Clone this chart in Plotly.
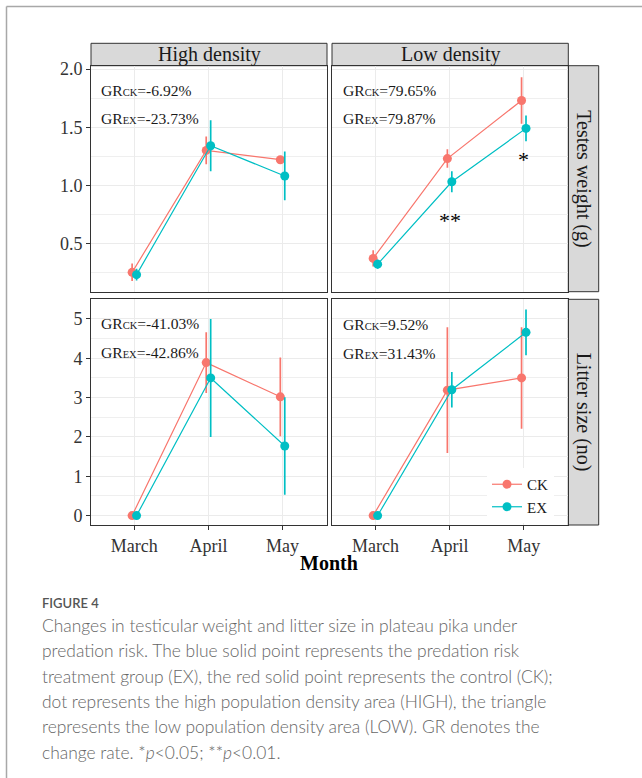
import plotly.graph_objects as go

W, H = 642, 778

months = ["March", "April", "May"]
groups = ["CK", "EX"]
colors = {"CK": "#F8766D", "EX": "#00BFC4"}

# Testes weight (g)
high_testes_ck = [0.25, 1.30, 1.22]
high_testes_ck_err = [0.075, 0.12, 0.03]
high_testes_ex = [0.23, 1.34, 1.08]
high_testes_ex_err = [0.05, 0.22, 0.21]
low_testes_ck = [0.37, 1.23, 1.73]
low_testes_ck_err = [0.07, 0.08, 0.20]
low_testes_ex = [0.32, 1.03, 1.49]
low_testes_ex_err = [0.04, 0.09, 0.11]

# Litter size (no)
high_litter_ck = [0.0, 3.89, 3.02]
high_litter_ck_err = [0.0, 0.77, 1.0]
high_litter_ex = [0.0, 3.50, 1.77]
high_litter_ex_err = [0.0, 1.5, 1.24]
low_litter_ck = [0.0, 3.19, 3.50]
low_litter_ck_err = [0.0, 1.6, 1.29]
low_litter_ex = [0.0, 3.20, 4.66]
low_litter_ex_err = [0.0, 0.45, 0.58]

gr_labels = {
    "hl_top": ("-6.92%", "-23.73%"),
    "lo_top": ("79.65%", "79.87%"),
    "hl_bot": ("-41.03%", "-42.86%"),
    "lo_bot": ("9.52%", "31.43%"),
}

col_titles = ["High density", "Low density"]
row_titles = ["Testes weight (g)", "Litter size (no)"]
x_title = "Month"

caption_head = "FIGURE 4"
caption_lines = [
    "Changes in testicular weight and litter size in plateau pika under",
    "predation risk. The blue solid point represents the predation risk",
    "treatment group (EX), the red solid point represents the control (CK);",
    "dot represents the high population density area (HIGH), the triangle",
    "represents the low population density area (LOW). GR denotes the",
    "change rate. *<i>p</i>&lt;0.05; **<i>p</i>&lt;0.01.",
]

SERIF = "Liberation Serif"
dodge = 0.03


def px(x):
    return x / W


def py(y):
    return 1 - y / H


# panel pixel geometry
colx = [(91, 327), (332, 568.3)]
rowy = [(65.7, 291.7), (299.3, 525)]
strip_top = 43.3
strip_right = 598.7

fig = go.Figure()

panels = [
    ("x", "y", high_testes_ck, high_testes_ck_err, high_testes_ex, high_testes_ex_err),
    ("x2", "y2", low_testes_ck, low_testes_ck_err, low_testes_ex, low_testes_ex_err),
    ("x3", "y3", high_litter_ck, high_litter_ck_err, high_litter_ex, high_litter_ex_err),
    ("x4", "y4", low_litter_ck, low_litter_ck_err, low_litter_ex, low_litter_ex_err),
]

for i, (xa, ya, ck, ckerr, ex, exerr) in enumerate(panels):
    for g, vals, errs, off in (("CK", ck, ckerr, -dodge), ("EX", ex, exerr, dodge)):
        fig.add_trace(go.Scatter(
            x=[k + off for k in range(len(months))], y=vals,
            mode="lines+markers", name=g, legendgroup=g,
            showlegend=(i == 3),
            line=dict(color=colors[g], width=1.2),
            marker=dict(color=colors[g], size=9),
            error_y=dict(type="data", array=errs, visible=True,
                         color=colors[g], thickness=1.7, width=0),
            xaxis=xa, yaxis=ya,
        ))

ax_common = dict(showline=True, mirror=True, linecolor="#333333", linewidth=1,
                 showgrid=True, gridcolor="#EBEBEB", gridwidth=1, zeroline=False,
                 automargin=False,
                 tickfont=dict(family=SERIF, size=18, color="#333333"))

xr = [-0.585, 2.6]
tickx = list(range(len(months)))
top_dom = [py(rowy[0][1]), py(rowy[0][0])]
bot_dom = [py(rowy[1][1]), py(rowy[1][0])]

layout_axes = {}
for name, col, row in (("xaxis", 0, 0), ("xaxis2", 1, 0), ("xaxis3", 0, 1), ("xaxis4", 1, 1)):
    anchor = {"xaxis": "y", "xaxis2": "y2", "xaxis3": "y3", "xaxis4": "y4"}[name]
    layout_axes[name] = dict(ax_common, domain=[px(colx[col][0]), px(colx[col][1])],
                             anchor=anchor, range=xr, tickvals=tickx, ticktext=months,
                             showticklabels=(row == 1), ticks="outside" if row == 1 else "",
                             ticklen=4, tickcolor="#333333")

top_range = [0.083, 2.03]
bot_range = [-0.24, 5.5]
for name, col, row in (("yaxis", 0, 0), ("yaxis2", 1, 0), ("yaxis3", 0, 1), ("yaxis4", 1, 1)):
    anchor = {"yaxis": "x", "yaxis2": "x2", "yaxis3": "x3", "yaxis4": "x4"}[name]
    if row == 0:
        tv = [0.5, 1.0, 1.5, 2.0]
        tt = ["0.5", "1.0", "1.5", "2.0"]
        mv = [0.25, 0.75, 1.25, 1.75]
        rg = top_range
        dom = top_dom
    else:
        tv = [0, 1, 2, 3, 4, 5]
        tt = [str(v) for v in tv]
        mv = [0.5, 1.5, 2.5, 3.5, 4.5]
        rg = bot_range
        dom = bot_dom
    layout_axes[name] = dict(ax_common, domain=dom, anchor=anchor, range=rg,
                             tickvals=tv, ticktext=tt,
                             showticklabels=(col == 0), ticks="outside" if col == 0 else "",
                             ticklen=4, tickcolor="#333333",
                             minor=dict(tickvals=mv, showgrid=True, gridcolor="#EFEFEF",
                                        gridwidth=0.7, ticks=""))

shapes = []
annotations = []

# outer frame
shapes.append(dict(type="line", xref="paper", yref="paper", x0=px(6.5), x1=px(6.5),
                   y0=py(6.5), y1=0, line=dict(color="#A8A8A8", width=1.5)))
shapes.append(dict(type="line", xref="paper", yref="paper", x0=px(6.5), x1=1,
                   y0=py(6.5), y1=py(6.5), line=dict(color="#A8A8A8", width=1.5)))

# top strips
for c in range(2):
    shapes.append(dict(type="rect", xref="paper", yref="paper", layer="below",
                       x0=px(colx[c][0]), x1=px(colx[c][1]), y0=py(rowy[0][0]), y1=py(strip_top),
                       fillcolor="#D9D9D9", line=dict(color="#333333", width=1)))
    annotations.append(dict(xref="paper", yref="paper", x=px((colx[c][0] + colx[c][1]) / 2),
                            y=py((strip_top + rowy[0][0]) / 2), text=col_titles[c], showarrow=False,
                            xanchor="center", yanchor="middle",
                            font=dict(family=SERIF, size=20, color="#1A1A1A")))
# right strips
for r in range(2):
    shapes.append(dict(type="rect", xref="paper", yref="paper", layer="below",
                       x0=px(colx[1][1]), x1=px(strip_right), y0=py(rowy[r][1]), y1=py(rowy[r][0]),
                       fillcolor="#D9D9D9", line=dict(color="#333333", width=1)))
    annotations.append(dict(xref="paper", yref="paper", x=px((colx[1][1] + strip_right) / 2),
                            y=py((rowy[r][0] + rowy[r][1]) / 2), text=row_titles[r], showarrow=False,
                            textangle=90, xanchor="center", yanchor="middle",
                            font=dict(family=SERIF, size=20, color="#1A1A1A")))

# GR labels
gr_pos = {
    "hl_top": (98.5, 90.7, 118.3),
    "lo_top": (340.5, 90.7, 118.3),
    "hl_bot": (99, 323.3, 352.7),
    "lo_bot": (340.5, 324.3, 353.3),
}
for key, (x0, y1, y2) in gr_pos.items():
    ckv, exv = gr_labels[key]
    for sub, val, yy in (("CK", ckv, y1), ("EX", exv, y2)):
        annotations.append(dict(xref="paper", yref="paper", x=px(x0), y=py(yy),
                                text=f"GR<span style='font-size:10.5px'>{sub}</span>={val}",
                                showarrow=False, xanchor="left", yanchor="middle",
                                font=dict(family=SERIF, size=15.6, color="#1A1A1A")))

# significance stars (low density, testes weight)
annotations.append(dict(xref="x2", yref="y2", x=1, y=0.70, text="**", showarrow=False,
                        xanchor="center", yanchor="middle",
                        font=dict(family=SERIF, size=22, color="#000000")))
annotations.append(dict(xref="x2", yref="y2", x=2, y=1.22, text="*", showarrow=False,
                        xanchor="center", yanchor="middle",
                        font=dict(family=SERIF, size=22, color="#000000")))

# x title
annotations.append(dict(xref="paper", yref="paper", x=px(329), y=py(563), text=f"<b>{x_title}</b>",
                        showarrow=False, xanchor="center", yanchor="middle",
                        font=dict(family=SERIF, size=20, color="#000000")))

# caption
annotations.append(dict(xref="paper", yref="paper", x=px(40), y=py(603), text=caption_head,
                        showarrow=False, xanchor="left", yanchor="middle",
                        font=dict(family="Lato", size=13, color="#555555", weight=600)))
for k, line in enumerate(caption_lines):
    annotations.append(dict(xref="paper", yref="paper", x=px(40), y=py(625.5 + 25.3 * k), text=line,
                            showarrow=False, xanchor="left", yanchor="middle",
                            font=dict(family="Lato", size=17.4, color="#666666", weight=300)))

fig.update_layout(
    width=W, height=H, autosize=False,
    margin=dict(l=0, r=0, t=0, b=0, pad=0),
    paper_bgcolor="white", plot_bgcolor="white",
    shapes=shapes, annotations=annotations,
    legend=dict(x=px(487), y=py(468), xanchor="left", yanchor="top",
                bgcolor="white", borderwidth=0,
                font=dict(family=SERIF, size=15, color="#1A1A1A"),
                tracegroupgap=0, itemwidth=30),
    **layout_axes,
)

fig.write_html("out.html", config={"displayModeBar": False},
               post_script="document.body.style.margin='0px';")
